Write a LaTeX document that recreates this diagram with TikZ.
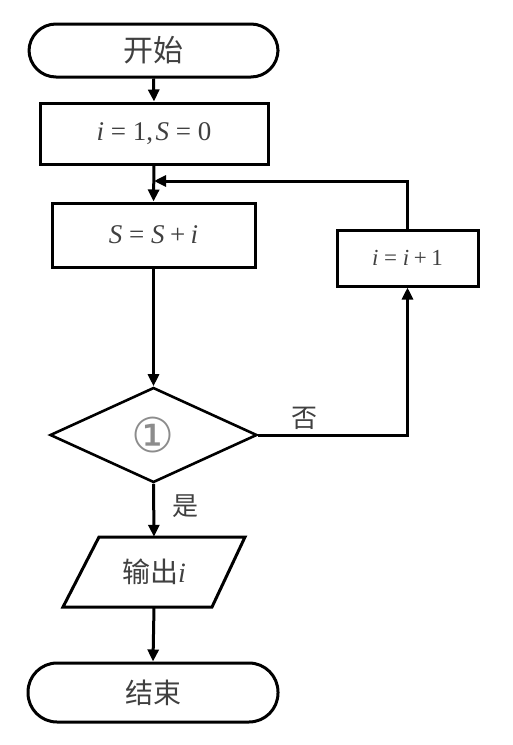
\documentclass[tikz,border=0pt]{standalone}
\usepackage{fontspec}
\setmainfont{Liberation Serif}
\newfontfamily\cjk{Noto Sans CJK SC}
\newfontfamily\dejavu{DejaVu Sans}
\usetikzlibrary{arrows.meta,shapes.geometric}
\definecolor{txt}{gray}{0.25}
\newcommand{\vi}{\textit{i}}
\newcommand{\vS}{\textit{S}}
\newcommand{\eq}{\hspace{0.25em}=\hspace{0.25em}}
\newcommand{\pl}{\hspace{0.2em}+\hspace{0.2em}}
\tikzset{
  every node/.style={text=txt},
  box/.style={draw=black, line width=3pt, inner sep=0pt},
  term/.style={box, rounded corners=27pt},
  dec/.style={draw=black, line width=2.6pt, shape=diamond, inner sep=0pt},
  conn/.style={draw=black, line width=3pt, -{Triangle[length=12pt,width=11pt]}},
  plain/.style={draw=black, line width=3pt},
  lab/.style={font=\cjk\fontsize{26}{28}\selectfont}
}
\begin{document}
\begin{tikzpicture}[x=1pt,y=-1pt]
\useasboundingbox (0,0) rectangle (512,745);
\node[term, minimum width=249pt, minimum height=53pt, font=\cjk\fontsize{30}{32}\selectfont] (start) at (153.5,50.5) {开始};
\node[box, minimum width=228pt, minimum height=61pt, font=\fontsize{27}{29}\selectfont] (init) at (154,133.5) {\vi\eq1,\hspace{0.1em}\vS\eq0};
\node[box, minimum width=203pt, minimum height=64pt, font=\fontsize{27}{29}\selectfont] (body) at (153.5,235) {\vS\eq\vS\pl\vi};
\node[box, minimum width=141pt, minimum height=56pt, font=\fontsize{23}{25}\selectfont] (inc) at (407.5,258) {\vi\eq\vi\pl1};
\node[dec, minimum width=207pt, minimum height=95pt, font=\dejavu\fontsize{48}{48}\selectfont, text=black!45] (cond) at (153.5,435) {①};
\node[minimum width=149pt, minimum height=70pt, inner sep=0pt, font=\cjk\fontsize{28}{30}\selectfont] (out) at (154,572) {输出{\rmfamily\vi}};
\draw[plain, line join=miter] (99,537) -- (245,537) -- (212,607) -- (63,607) -- cycle;
\node[term, minimum width=250pt, minimum height=59pt, rounded corners=29pt, font=\cjk\fontsize{28}{30}\selectfont] (stop) at (153,692.5) {结束};
\coordinate (merge) at (154,181);
\draw[conn] (start.south) -- (init.north);
\draw[conn] (init.south) -- (body.north);
\draw[conn] (inc.north) |- (merge);
\draw[conn] (body.south) -- (cond.north);
\draw[conn] (cond.east) -| (inc.south);
\draw[conn] (cond.south) -- (out.north);
\draw[conn] (out.south) -- (stop.north);
\node[lab] (no) at (304,418) {否};
\node[lab] (yes) at (185,506) {是};
\end{tikzpicture}
\end{document}
